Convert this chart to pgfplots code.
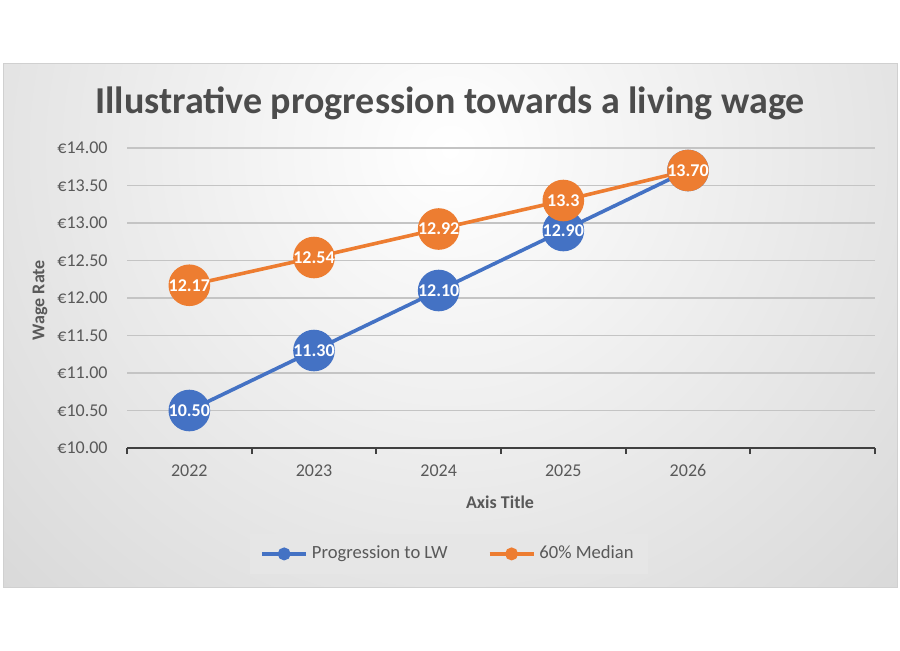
\documentclass[border=0pt]{standalone}
\usepackage{fontspec}
\setmainfont{Carlito}
\usepackage{pgfplots}
\pgfplotsset{compat=1.18}
\definecolor{cblue}{HTML}{4472C4}
\definecolor{corange}{HTML}{ED7D31}
\definecolor{ctext}{HTML}{595959}
\definecolor{cgrid}{HTML}{C4C4C4}
\definecolor{caxis}{HTML}{404040}
\definecolor{bgouter}{HTML}{C0C0C0}
\definecolor{cborder}{HTML}{D0D0D0}
\definecolor{legfill}{HTML}{E6E6E6}
\begin{document}
\begin{tikzpicture}
\fill[white] (0pt,0pt) rectangle (450pt,-325pt);
\begin{scope}
\clip (1.5pt,-31.5pt) rectangle (448.5pt,-293.5pt);
\shade[inner color=white, outer color=bgouter] (225pt,-75pt) circle (520pt);
\end{scope}
\draw[cborder, line width=0.5pt] (1.5pt,-31.5pt) rectangle (448.5pt,-293.5pt);
\node[font=\bfseries\fontsize{19}{22}\selectfont, text=ctext!85!black] at (225pt,-51.5pt) {Illustrative progression towards a living wage};
\begin{axis}[
  at={(63.5pt,-224pt)}, anchor=south west,
  width=374pt, height=150pt, scale only axis,
  xmin=-0.5, xmax=5.5, ymin=10, ymax=14,
  xtick={-0.5,0.5,...,5.5},
  xticklabels={2022,2023,2024,2025,2026,{}},
  x tick label as interval,
  ytick={10,10.5,...,14},
  yticklabel={€\pgfmathprintnumber{\tick}},
  /pgf/number format/.cd, fixed, fixed zerofill, precision=2, assume math mode=true,
  /pgfplots/.cd,
  axis x line*=bottom, axis y line*=left,
  y axis line style={draw=none},
  ytick style={draw=none},
  x axis line style={caxis, line width=0.9pt},
  xtick style={caxis, line width=0.9pt},
  tick align=outside, major tick length=3pt,
  ymajorgrids, grid style={cgrid, line width=0.7pt},
  ticklabel style={font=\fontsize{9}{10}\selectfont, text=ctext},
  yticklabel style={inner sep=0pt, xshift=-6.5pt},
  xticklabel style={inner sep=0pt, yshift=-5pt},
  xlabel={Axis Title}, ylabel={Wage Rate},
  xlabel style={at={(rel axis cs:0.4987,-0.18)}, anchor=center, font=\bfseries\fontsize{9}{10}\selectfont, text=ctext},
  ylabel style={at={(rel axis cs:-0.1163,0.493)}, anchor=center, font=\bfseries\fontsize{9}{10}\selectfont, text=ctext},
  clip=false,
  legend style={at={(rel axis cs:0.4305,-0.353)}, anchor=center, legend columns=2, draw=none, fill=legfill,
    font=\fontsize{9.3}{10}\selectfont, text=ctext, inner xsep=5pt, inner ysep=4pt,
    /tikz/every even column/.append style={column sep=18pt}},
  legend image code/.code={\draw[mark=none, line width=1.8pt] (0pt,0pt) -- (22pt,0pt); \fill (11pt,0pt) circle (2.3pt);},
  nodes near coords,
  point meta=explicit symbolic,
  every node near coord/.append style={anchor=center, font=\bfseries\fontsize{9}{10}\selectfont, text=white, inner sep=0pt},
]
\addplot[cblue, line width=1.8pt, mark=*, mark size=9.5pt, mark options={fill=cblue, draw=cblue}] coordinates {
  (0,10.50) [10.50]
  (1,11.30) [11.30]
  (2,12.10) [12.10]
  (3,12.90) [12.90]
  (4,13.70) [13.70]
};
\addlegendentry{Progression to LW}
\addplot[corange, line width=1.8pt, mark=*, mark size=9.5pt, mark options={fill=corange, draw=corange}] coordinates {
  (0,12.17) [12.17]
  (1,12.54) [12.54]
  (2,12.92) [12.92]
  (3,13.30) [13.3]
  (4,13.70) [13.70]
};
\addlegendentry{60\% Median}
\end{axis}
\end{tikzpicture}
\end{document}
